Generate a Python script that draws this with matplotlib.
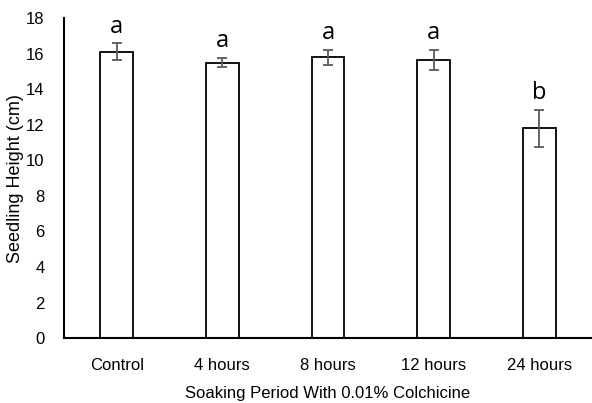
import matplotlib.pyplot as plt
import numpy as np

# --- dados ---
tratamentos = ["Control", "4 hours", "8 hours", "12 hours", "24 hours"]
altura = [16.1, 15.5, 15.8, 15.65, 11.8]
erro = [0.48, 0.27, 0.43, 0.55, 1.05]
letras = ["a", "a", "a", "a", "b"]

plt.rcParams["font.family"] = ["Liberation Sans", "DejaVu Sans"]

fig = plt.figure(figsize=(5.92, 4.03), dpi=100)
ax = fig.add_axes([0.108, 0.161, 0.892, 0.794])

x = np.arange(len(tratamentos))
ax.bar(x, altura, width=0.31, color="white", edgecolor="black", linewidth=1.3,
       yerr=erro, error_kw=dict(ecolor="#595959", elinewidth=1.3, capsize=3.5, capthick=1.3))

for xi, h, e, l in zip(x, altura, erro, letras):
    ax.text(xi, h + e + 0.6, l, ha="center", va="baseline", fontsize=17,
            family=["Open Sans", "DejaVu Sans"])

ax.set_xlim(-0.5, 4.5)
ax.set_ylim(0, 18)
ax.set_yticks(range(0, 19, 2))
ax.set_xticks(x)
ax.set_xticklabels(tratamentos)
ax.tick_params(length=0, labelsize=12)
ax.tick_params(axis="y", pad=14)
ax.tick_params(axis="x", pad=14)
ax.spines["top"].set_visible(False)
ax.spines["right"].set_visible(False)
ax.spines["left"].set_linewidth(1.5)
ax.spines["bottom"].set_linewidth(1.5)
ax.set_xlabel("Soaking Period With 0.01% Colchicine", fontsize=12, labelpad=10)
ax.set_ylabel("Seedling Height (cm)", fontsize=13, labelpad=1)

fig.savefig("out.png", dpi=100)
